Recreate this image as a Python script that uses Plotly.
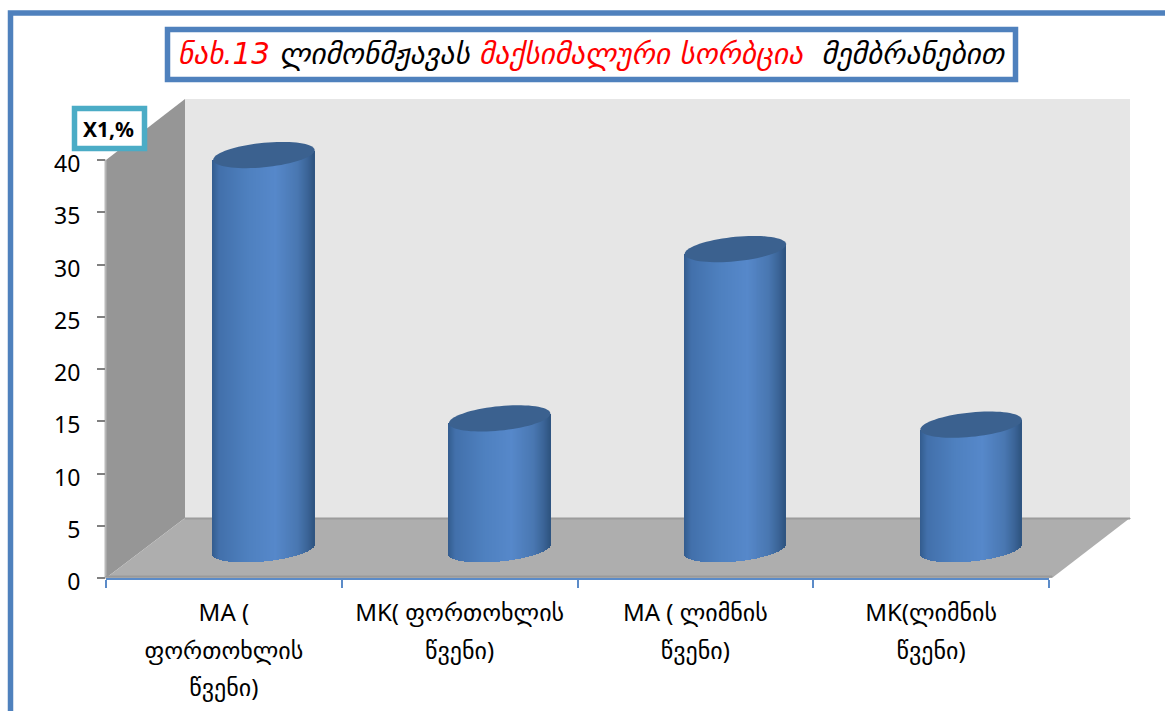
import math
import plotly.graph_objects as go

W, H = 1165, 711

# ---- data ----
categories = ["MA (<br>ფორთოხლის<br>წვენი)", "MK( ფორთოხლის<br>წვენი)",
              "MA ( ლიმნის<br>წვენი)", "MK(ლიმნის<br>წვენი)"]
values = [37.7, 12.5, 28.7, 11.9]
y_ticks = [0, 5, 10, 15, 20, 25, 30, 35, 40]
title_parts = [("ნახ.13", "#FF0000"), (" ლიმონმჟავას ", "#000000"),
               ("მაქსიმალური სორბცია", "#FF0000"), ("  მემბრანებით", "#000000")]
y_title = "X1,%"

# ---- styling ----
FONT = "Noto Sans, DejaVu Sans, sans-serif"
BLUE = "#4F81BD"
STOPS = [(0.0, (0x33, 0x5C, 0x8E)), (0.07, (0x42, 0x70, 0xAB)), (0.35, (0x4E, 0x80, 0xBF)),
         (0.62, (0x56, 0x88, 0xCA)), (0.84, (0x49, 0x77, 0xB1)), (0.94, (0x3A, 0x63, 0x96)),
         (1.0, (0x2E, 0x54, 0x80))]
N_STRIPS = 102
BAR_W = 0.43      # fraction of one category
TILT, MINOR = 0.46, 1.17   # cap ellipse, in value units


def X(p): return p / W
def Y(p): return 1 - p / H


def colour(t):
    for (a, ca), (b, cb) in zip(STOPS, STOPS[1:]):
        if t <= b:
            f = (t - a) / (b - a)
            return "rgb(%d,%d,%d)" % tuple(round(p + (q - p) * f) for p, q in zip(ca, cb))
    return "rgb(46,84,128)"


def poly(points, fill, line=None, lw=0):
    path = "M" + " L".join(f"{X(a):.5f},{Y(b):.5f}" for a, b in points) + " Z"
    return dict(type="path", xref="paper", yref="paper", path=path, fillcolor=fill,
                line=dict(color=line or fill, width=lw), layer="below")


def box(x0, y0, x1, y1, colour_, lw, fill="rgba(0,0,0,0)"):
    return dict(type="rect", xref="paper", yref="paper", x0=X(x0), x1=X(x1), y0=Y(y0), y1=Y(y1),
                fillcolor=fill, line=dict(color=colour_, width=lw), layer="below")


fig = go.Figure()

# the category axis, on the front plane of the 3-D box
fig.add_trace(go.Scatter(x=categories, y=values, mode="none", hoverinfo="skip",
                         showlegend=False, xaxis="x", yaxis="y"))

# the cylinders: narrow bars on the mid-depth plane, shaded across their width
for s in range(N_STRIPS):
    t = (s + 0.5) / N_STRIPS
    u = 2 * t - 1
    low = TILT * u - MINOR * math.sqrt(1 - u * u)
    top = [v + TILT * u for v in values]
    fig.add_trace(go.Bar(
        x=[i + (t - 0.5) * BAR_W for i in range(len(values))],
        y=[tp - low for tp in top],
        base=[low] * len(values),
        width=BAR_W / N_STRIPS * 1.5,
        marker=dict(color=colour(t), line=dict(width=0)),
        hoverinfo="skip", showlegend=False, xaxis="x2", yaxis="y2"))

shapes = [
    box(10.5, 13, 1175, 725, BLUE, 5.5),
    poly([(185, 99), (1130, 99), (1130, 518), (185, 518)], "#E6E6E6"),
    poly([(106, 160), (185, 99), (185, 518), (106, 578)], "#969696"),
    poly([(106, 578), (185, 518), (1130, 518), (1052, 578)], "#AEAEAE"),
    poly([(185, 518), (1130, 518), (1130, 519), (185, 519)], "#9C9C9C", "#9C9C9C", 1),
    poly([(105, 160), (106, 160), (106, 578), (105, 578)], "#B8B8B8", "#B8B8B8", 1),
    poly([(106, 576), (1052, 576), (1052, 577), (106, 577)], "#9A9A9A", "#9A9A9A", 1),
    box(167.5, 29.5, 1015.5, 79.5, BLUE, 5.5, "#FFFFFF"),
    box(74.5, 108.5, 144.5, 148.5, "#4BACC6", 5.5, "#FFFFFF"),
]
# the top caps, placed through the same mid-depth axes
for i, v in enumerate(values):
    pts = []
    for k in range(72):
        a = 2 * math.pi * k / 72
        pts.append((i + BAR_W / 2 * math.cos(a), v + TILT * math.cos(a) + MINOR * math.sin(a)))
    shapes.append(dict(type="path", xref="x2", yref="y2", layer="above", fillcolor="#3B618F",
                       line=dict(width=0),
                       path="M" + " L".join(f"{a:.4f},{b:.4f}" for a, b in pts) + " Z"))

title_text = "<i>" + "".join(f'<span style="color:{c}">{t}</span>' for t, c in title_parts) + "</i>"
tick_text = [f'<span style="font-size:24px">{c}</span>' for c in categories]

fig.update_layout(
    width=W, height=H, autosize=False,
    margin=dict(l=0, r=0, t=0, b=0, pad=0),
    paper_bgcolor="#FFFFFF", plot_bgcolor="rgba(0,0,0,0)",
    barmode="overlay", showlegend=False, bargap=0,
    font=dict(family=FONT, color="#000000"),
    title=dict(text=title_text, x=X(591), xanchor="center", y=Y(54), yanchor="middle",
               font=dict(family="DejaVu Sans, sans-serif", size=29.3)),
    xaxis=dict(type="category", categoryorder="array", categoryarray=categories, automargin=False,
               tickmode="array", tickvals=categories, ticktext=tick_text,
               domain=[X(106), X(1049)], range=[-0.5, 3.5], tickson="boundaries",
               ticks="outside", ticklen=8, tickcolor="#5B8BC8", tickwidth=2, tickangle=0,
               showline=True, linecolor="#5B8BC8", linewidth=2, showgrid=False, zeroline=False,
               tickfont=dict(family=FONT, size=29, color="#000000"), anchor="y",
               ticklabelstandoff=6, fixedrange=True),
    yaxis=dict(domain=[Y(578), Y(160)], range=[0, 40], tickmode="array", tickvals=y_ticks,
               automargin=False,
               ticks="outside", ticklen=8, tickcolor="#808080", tickwidth=1.5,
               showline=False, showgrid=False, zeroline=False,
               tickfont=dict(family=FONT, size=23, color="#000000"), anchor="x",
               ticklabelstandoff=12, ticklabelshift=4, fixedrange=True),
    xaxis2=dict(domain=[X(146), X(1089)], range=[-0.5, 3.5], visible=False, anchor="y2",
                automargin=False, fixedrange=True),
    yaxis2=dict(domain=[Y(549 + 52.25), Y(131 - 52.25)], range=[-5, 45], visible=False, anchor="x2",
                automargin=False, fixedrange=True),
    shapes=shapes,
    annotations=[dict(text=f"<b>{y_title}</b>", xref="paper", yref="paper", x=X(108), y=Y(129),
                      xanchor="center", yanchor="middle", showarrow=False,
                      font=dict(family="Noto Sans, sans-serif", size=21, color="#000000"))],
)

fig.write_html("out.html", config={"displayModeBar": False},
               post_script="document.body.style.margin='0';document.body.style.overflow='hidden';")
